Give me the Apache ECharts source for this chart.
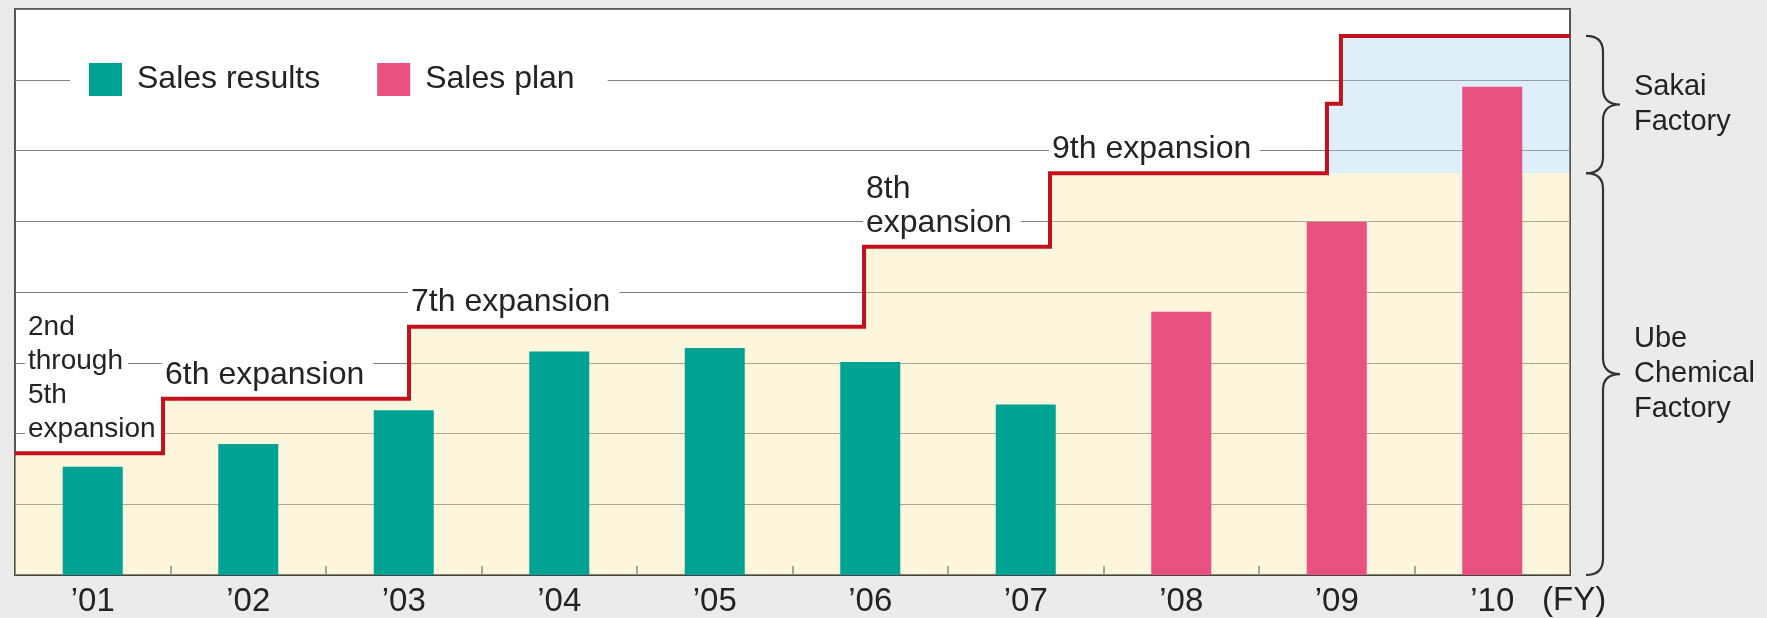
<!DOCTYPE html>
<html>
<head>
<meta charset="utf-8">
<script src="https://cdn.jsdelivr.net/npm/echarts@6/dist/echarts.min.js"></script>
<style>
  html, body { margin: 0; padding: 0; background: #ebebeb; }
  #chart { width: 1767px; height: 618px; }
</style>
</head>
<body>
<div id="chart"></div>
<script>
// Fiscal years on the category axis
const fiscalYears = ['\u201901', '\u201902', '\u201903', '\u201904', '\u201905', '\u201906', '\u201907', '\u201908', '\u201909', '\u201910'];
const fyUnit = '(FY)';

// Sales volumes (actual through FY07, plan from FY08)
const salesResults = [1.53, 1.85, 2.33, 3.16, 3.21, 3.01, 2.41, null, null, null];
const salesPlan    = [null, null, null, null, null, null, null, 3.72, 4.99, 6.90];

// Production capacity: each expansion starts at a point on the fiscal-year scale (0 = start of FY01)
const expansionStart = [0, 0.952, 2.534, 5.46, 6.656, 8.437, 8.527];
const capacity       = [1.72, 2.49, 3.51, 4.64, 5.68, 6.66, 7.62];
const expansionLabels = ['2nd\nthrough\n5th\nexpansion', '6th expansion', '7th expansion', '8th\nexpansion', '9th expansion'];

// Ube Chemical Factory tops out at the 9th expansion; later steps are Sakai Factory
const ubeLastStep = 4;
const factoryLabels = ['Sakai\nFactory', 'Ube\nChemical\nFactory'];

const FONT = '"Liberation Sans", Arial, Helvetica, sans-serif';
const TEXT = '#232323';

const yearCount = fiscalYears.length;
const ubeMax = capacity[ubeLastStep];
const totalMax = capacity[capacity.length - 1];
const stepPoints = expansionStart.map((x, i) => [x, capacity[i]]);
stepPoints.push([yearCount, totalMax]);
const ubePoints = stepPoints.map(p => [p[0], Math.min(p[1], ubeMax)]);
const sakaiPoints = stepPoints.slice(ubeLastStep + 1);
const labelPoints = expansionLabels.map((_, i) => [expansionStart[i], capacity[i]]);
// factory spans on the capacity scale: [from, to]
const factorySpans = [[ubeMax, totalMax], [0, ubeMax]];

function bracePath(xe, xs, xt, y0, y1) {
  const ym = (y0 + y1) / 2;
  const r = 16;
  return 'M' + xe + ' ' + y0 +
    ' Q' + xs + ' ' + y0 + ' ' + xs + ' ' + (y0 + r) +
    ' L' + xs + ' ' + (ym - r) +
    ' Q' + xs + ' ' + ym + ' ' + xt + ' ' + ym +
    ' Q' + xs + ' ' + ym + ' ' + xs + ' ' + (ym + r) +
    ' L' + xs + ' ' + (y1 - r) +
    ' Q' + xs + ' ' + y1 + ' ' + xe + ' ' + y1;
}

const chart = echarts.init(document.getElementById('chart'), null, { renderer: 'canvas' });

chart.setOption({
  animation: false,
  backgroundColor: '#ebebeb',
  textStyle: { fontFamily: FONT },
  grid: {
    left: 15, right: 197, top: 9, bottom: 43,
    show: true, backgroundColor: '#ffffff',
    borderColor: '#555555', borderWidth: 2
  },
  legend: {
    data: ['Sales results', 'Sales plan'],
    left: 70, top: 57,
    icon: 'rect', itemWidth: 33, itemHeight: 33, itemGap: 57,
    backgroundColor: '#ffffff',
    padding: [6, 33, 6, 19],
    selectedMode: false,
    textStyle: { fontSize: 32, color: TEXT, fontFamily: FONT, padding: [0, 0, 0, 10] }
  },
  xAxis: [
    {
      type: 'category', data: fiscalYears, boundaryGap: true,
      axisLine: { show: true, lineStyle: { color: '#444444', width: 2 } },
      axisTick: { show: true, inside: true, length: 9, lineStyle: { color: '#555555', width: 1.5 } },
      axisLabel: { fontSize: 33, color: TEXT, fontFamily: FONT, margin: 10 },
      splitLine: { show: false }
    },
    {
      type: 'value', min: 0, max: yearCount, show: false
    }
  ],
  yAxis: {
    type: 'value', min: 0, max: 8, interval: 1,
    axisLine: { show: false }, axisTick: { show: false }, axisLabel: { show: false },
    splitLine: { show: true, lineStyle: { color: '#808080', width: 1.2 } }
  },
  series: [
    {
      name: 'Ube capacity area', type: 'line', xAxisIndex: 1, step: 'end',
      data: ubePoints, symbol: 'none', silent: true, z: 1,
      lineStyle: { width: 0 },
      areaStyle: { color: 'rgba(251,228,164,0.55)', origin: 'start' }
    },
    {
      name: 'Sakai capacity area', type: 'line', xAxisIndex: 1, step: 'end',
      data: sakaiPoints, symbol: 'none', silent: true, z: 1,
      lineStyle: { width: 0 },
      areaStyle: { color: 'rgba(170,213,239,0.55)', origin: ubeMax }
    },
    {
      name: 'Sales results', type: 'bar', xAxisIndex: 0, data: salesResults,
      barWidth: 60, barGap: '-100%', z: 2,
      itemStyle: { color: '#00a393' }
    },
    {
      name: 'Sales plan', type: 'bar', xAxisIndex: 0, data: salesPlan,
      barWidth: 60, barGap: '-100%', z: 2,
      itemStyle: { color: '#e8507f' }
    },
    {
      name: 'Expansion labels', type: 'scatter', xAxisIndex: 1,
      data: labelPoints, symbolSize: 0, silent: true, z: 3,
      itemStyle: { opacity: 1 },
      label: {
        show: true,
        position: [0, -7],
        align: 'left', verticalAlign: 'bottom',
        opacity: 1,
        formatter: p => {
          const key = p.dataIndex === 0 ? 's' : 't';
          return expansionLabels[p.dataIndex].split('\n').map(s => '{' + key + '|' + s + '}').join('\n');
        },
        rich: {
          t: {
            fontSize: 32, lineHeight: 34, color: TEXT, fontFamily: FONT,
            backgroundColor: '#ffffff', padding: [0, 9, 0, 3]
          },
          s: {
            fontSize: 28, lineHeight: 34, color: TEXT, fontFamily: FONT,
            backgroundColor: '#ffffff', padding: [0, 5, 0, 3]
          }
        }
      },
      labelLayout: p => ({ dx: p.dataIndex === 0 ? 10 : -1 })
    },
    {
      name: 'Production capacity', type: 'line', xAxisIndex: 1, step: 'end',
      data: stepPoints, symbol: 'none', silent: true, z: 4,
      lineStyle: { color: '#c2111b', width: 4, join: 'miter', cap: 'butt' }
    },
    {
      name: 'Factories', type: 'custom', xAxisIndex: 1, yAxisIndex: 0,
      data: factorySpans, silent: true, clip: false, z: 5,
      renderItem: (params, api) => {
        const top = api.coord([yearCount, api.value(1)]);
        const bottom = api.coord([yearCount, api.value(0)]);
        const xr = top[0];
        const y0 = top[1], y1 = bottom[1];
        return {
          type: 'group',
          children: [
            {
              type: 'path',
              shape: { pathData: bracePath(xr + 16, xr + 33, xr + 50, y0, y1) },
              style: { fill: 'none', stroke: '#333333', lineWidth: 2.2 }
            },
            {
              type: 'text',
              style: {
                x: xr + 64, y: (y0 + y1) / 2,
                text: factoryLabels[params.dataIndex],
                fontSize: 29, lineHeight: 35, fontFamily: FONT,
                fill: TEXT, align: 'left', verticalAlign: 'middle'
              }
            }
          ]
        };
      }
    }
  ]
});

// Unit marker after the last fiscal year
const xRight = chart.convertToPixel({ xAxisIndex: 1 }, yearCount);
const yBase = chart.convertToPixel({ yAxisIndex: 0 }, 0);
chart.setOption({
  graphic: [{
    type: 'text', silent: true,
    x: xRight - 28, y: yBase + 26,
    style: { text: fyUnit, fontSize: 33, fontFamily: FONT, fill: TEXT, align: 'left', verticalAlign: 'middle' }
  }]
});
</script>
</body>
</html>
